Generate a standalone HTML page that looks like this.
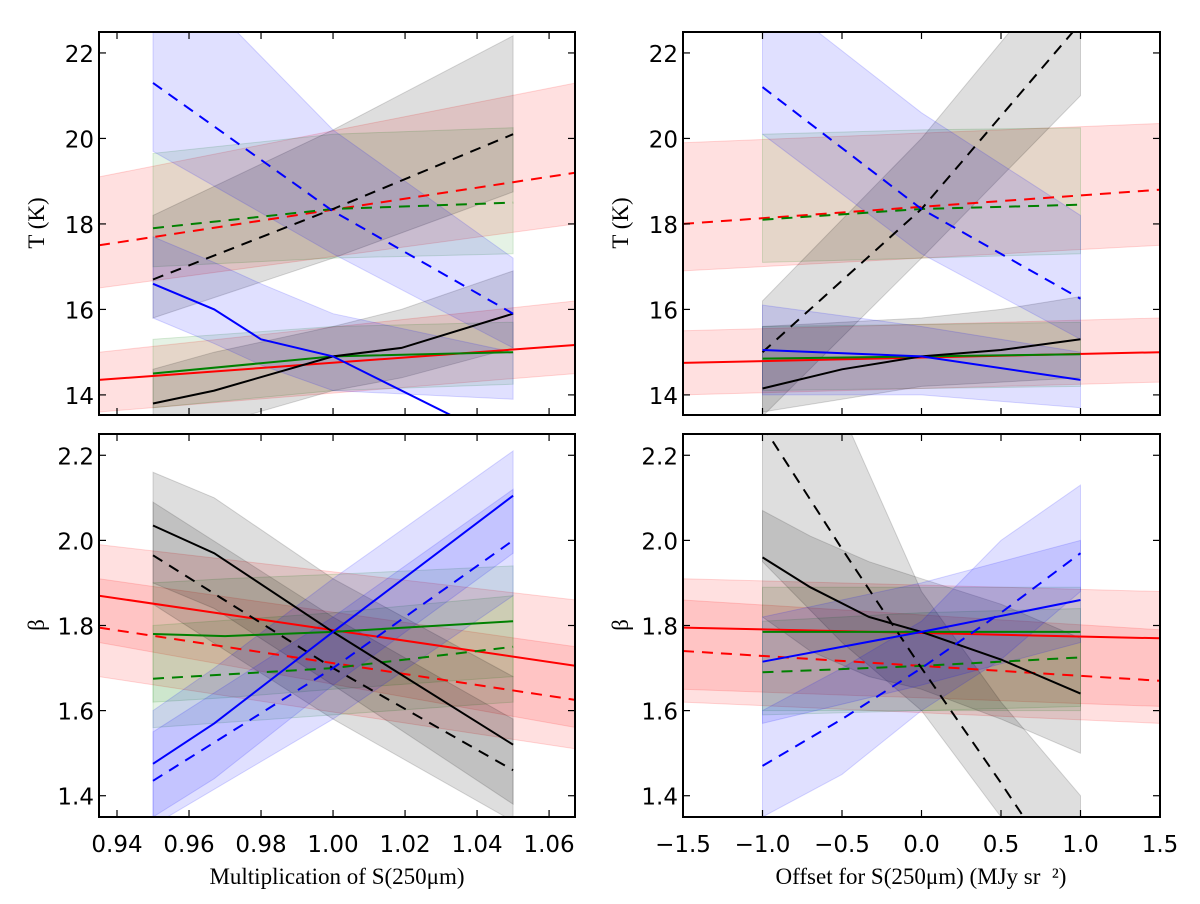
<!DOCTYPE html>
<html><head><meta charset="utf-8"><style>
html,body{margin:0;padding:0;background:#fff;}
svg{display:block;}
.tick{font-family:"DejaVu Sans","Liberation Sans",sans-serif;font-size:23px;fill:#000;}
.lab{font-family:"Liberation Serif","DejaVu Serif",serif;font-size:23px;fill:#000;}
</style></head><body>
<svg id="chart" width="1200" height="904" viewBox="0 0 1200 904" xmlns="http://www.w3.org/2000/svg"></svg>
<script>
// ---- data (x values, line values, band low, band high) ----
const multX3 = [0.95, 1.0, 1.05];
const multXfull = [0.935, 1.0675];
const offX3 = [-1, 0, 1];
const offXfull = [-1.5, 1.5];

// Top-left: T vs multiplication
const tlRedDash = [17.5, 19.2], tlRedDashLo = [16.5, 18.0], tlRedDashHi = [19.1, 21.3];
const tlRedSolid = [14.35, 15.17], tlRedSolidLo = [13.6, 14.5], tlRedSolidHi = [15.0, 16.2];
const tlGreenDash = [17.9, 18.35, 18.5], tlGreenDashLo = [17.0, 17.2, 17.3], tlGreenDashHi = [19.65, 20.1, 20.25];
const tlGreenSolid = [14.5, 14.9, 15.0], tlGreenSolidLo = [13.7, 14.1, 14.25], tlGreenSolidHi = [15.3, 15.6, 15.7];
const tlBlackDash = [16.7, 18.35, 20.1], tlBlackDashLo = [15.8, 17.2, 18.75], tlBlackDashHi = [18.2, 20.2, 22.4];
const tlBlackSolidX = [0.95, 0.967, 1.0, 1.019, 1.05];
const tlBlackSolid = [13.8, 14.1, 14.9, 15.1, 15.9];
const tlBlackSolidLo = [13.0, 13.3, 14.1, 14.4, 15.1], tlBlackSolidHi = [14.6, 15.0, 15.6, 16.0, 16.9];
const tlBlueDash = [21.3, 18.3, 15.9], tlBlueDashLo = [19.7, 17.3, 15.1], tlBlueDashHi = [24.5, 20.2, 17.2];
const tlBlueSolidX = [0.95, 0.967, 0.98, 1.0, 1.05];
const tlBlueSolid = [16.6, 16.0, 15.3, 14.9, 12.8], tlBlueSolidLo = [15.8, 15.2, 14.7, 14.1, 13.9], tlBlueSolidHi = [17.7, 17.1, 16.6, 15.9, 15.0];

// Top-right: T vs offset
const trRedDash = [18.0, 18.8], trRedDashLo = [16.9, 17.5], trRedDashHi = [19.9, 20.35];
const trRedSolid = [14.75, 15.0], trRedSolidLo = [14.0, 14.3], trRedSolidHi = [15.5, 15.8];
const trGreenDash = [18.1, 18.35, 18.45], trGreenDashLo = [17.1, 17.2, 17.3], trGreenDashHi = [20.1, 20.2, 20.25];
const trGreenSolid = [14.85, 14.9, 14.95], trGreenSolidLo = [14.1, 14.15, 14.2], trGreenSolidHi = [15.6, 15.65, 15.7];
const trBlackDash = [15.0, 18.35, 22.7], trBlackDashLo = [13.5, 17.2, 21.0], trBlackDashHi = [16.2, 20.0, 24.5];
const trBlackSolidX = [-1, -0.5, 0, 0.5, 1];
const trBlackSolid = [14.15, 14.6, 14.9, 15.05, 15.3], trBlackSolidLo = [13.6, 13.9, 14.2, 14.3, 14.4], trBlackSolidHi = [15.6, 15.7, 15.8, 16.0, 16.3];
const trBlueDash = [21.2, 18.35, 16.25], trBlueDashLo = [20.1, 17.3, 15.3], trBlueDashHi = [23.5, 20.6, 18.2];
const trBlueSolid = [15.05, 14.9, 14.35], trBlueSolidLo = [14.0, 14.0, 13.7], trBlueSolidHi = [16.1, 15.6, 15.0];

// Bottom-left: beta vs multiplication
const blRedSolid = [1.87, 1.705], blRedSolidLo = [1.76, 1.56], blRedSolidHi = [1.99, 1.86];
const blRedDash = [1.795, 1.625], blRedDashLo = [1.68, 1.51], blRedDashHi = [1.91, 1.75];
const blGreenSolidX = [0.95, 0.97, 1.0, 1.05];
const blGreenSolid = [1.78, 1.775, 1.785, 1.81], blGreenSolidLo = [1.62, 1.63, 1.65, 1.68], blGreenSolidHi = [1.90, 1.91, 1.92, 1.94];
const blGreenDash = [1.675, 1.70, 1.75], blGreenDashLo = [1.56, 1.59, 1.62], blGreenDashHi = [1.80, 1.83, 1.87];
const blBlackSolidX = [0.95, 0.967, 1.0, 1.05];
const blBlackSolid = [2.035, 1.97, 1.785, 1.52], blBlackSolidLo = [1.90, 1.84, 1.66, 1.38], blBlackSolidHi = [2.16, 2.10, 1.91, 1.68];
const blBlackDash = [1.965, 1.70, 1.46], blBlackDashLo = [1.85, 1.58, 1.34], blBlackDashHi = [2.09, 1.82, 1.58];
const blBlueSolidX = [0.95, 0.967, 1.0, 1.05];
const blBlueSolid = [1.475, 1.57, 1.785, 2.105], blBlueSolidLo = [1.35, 1.44, 1.66, 1.97], blBlueSolidHi = [1.60, 1.70, 1.91, 2.21];
const blBlueDash = [1.435, 1.70, 2.0], blBlueDashLo = [1.33, 1.58, 1.87], blBlueDashHi = [1.55, 1.82, 2.12];

// Bottom-right: beta vs offset
const brRedSolid = [1.795, 1.77], brRedSolidLo = [1.62, 1.57], brRedSolidHi = [1.91, 1.88];
const brRedDash = [1.74, 1.67], brRedDashLo = [1.65, 1.61], brRedDashHi = [1.86, 1.79];
const brGreenSolid = [1.785, 1.785, 1.785], brGreenSolidLo = [1.60, 1.60, 1.60], brGreenSolidHi = [1.89, 1.89, 1.89];
const brGreenDash = [1.69, 1.705, 1.725], brGreenDashLo = [1.59, 1.60, 1.61], brGreenDashHi = [1.81, 1.83, 1.84];
const brBlackSolidX = [-1, -0.7, -0.33, 0, 0.5, 1];
const brBlackSolid = [1.96, 1.89, 1.82, 1.785, 1.72, 1.64], brBlackSolidLo = [1.82, 1.74, 1.68, 1.65, 1.58, 1.50], brBlackSolidHi = [2.07, 2.01, 1.95, 1.91, 1.85, 1.77];
const brBlackDashX = [-1, -0.5, 0, 0.5, 1];
const brBlackDash = [2.27, 1.98, 1.70, 1.43, 1.15], brBlackDashLo = [1.95, 1.76, 1.60, 1.35, 1.10], brBlackDashHi = [2.6, 2.3, 1.88, 1.62, 1.40];
const brBlueSolid = [1.715, 1.785, 1.86], brBlueSolidLo = [1.57, 1.66, 1.76], brBlueSolidHi = [1.82, 1.90, 2.0];
const brBlueDashX = [-1, -0.5, 0, 0.5, 1];
const brBlueDash = [1.47, 1.58, 1.70, 1.83, 1.97], brBlueDashLo = [1.35, 1.45, 1.60, 1.72, 1.88], brBlueDashHi = [1.60, 1.70, 1.81, 2.0, 2.13];

// ticks
const multTicks = ["0.94","0.96","0.98","1.00","1.02","1.04","1.06"];
const offTicks = ["\u22121.5","\u22121.0","\u22120.5","0.0","0.5","1.0","1.5"];
const offTickVals = [-1.5,-1,-0.5,0,0.5,1,1.5];
const tTicks = [14,16,18,20,22];
const bTicks = ["1.4","1.6","1.8","2.0","2.2"];

// ---- drawing ----
const NS = "http://www.w3.org/2000/svg";
const svg = document.getElementById('chart');
function mk(tag, attrs, parent){
  const e = document.createElementNS(NS, tag);
  for (const k in attrs) e.setAttribute(k, attrs[k]);
  (parent||svg).appendChild(e); return e;
}
const COL = {red:"#ff0000", green:"#008000", black:"#000000", blue:"#0000ff"};
const FILL = {red:0.12, green:0.10, black:0.13, blue:0.12};

function panel(id, box, xd, yd){
  const [L,T,R,B] = box;
  const p = {L,T,R,B,
    x: v => L + (v - xd[0])/(xd[1]-xd[0])*(R-L),
    y: v => B - (v - yd[0])/(yd[1]-yd[0])*(B-T)};
  const cp = mk('clipPath', {id:'clip-'+id});
  mk('rect', {x:L, y:T, width:R-L, height:B-T}, cp);
  p.g = mk('g', {'clip-path':'url(#clip-'+id+')'});
  
  
  return p;
}
function band(p, name, color, xs, lo, hi){
  let d = '';
  xs.forEach((v,i)=>{ d += (i?'L':'M') + p.x(v).toFixed(1) + ',' + p.y(lo[i]).toFixed(1); });
  for (let i = xs.length-1; i >= 0; i--) d += 'L' + p.x(xs[i]).toFixed(1) + ',' + p.y(hi[i]).toFixed(1);
  const e = mk('path', {d: d+'Z', fill: COL[color], 'fill-opacity': FILL[color], stroke: COL[color], 'stroke-opacity': 0.15, 'stroke-width': 1}, p.g);
  
  
}
function line(p, name, color, xs, ys, dashed){
  const pts = xs.map((v,i)=> p.x(v).toFixed(1)+','+p.y(ys[i]).toFixed(1)).join(' ');
  const a = {points: pts, fill:'none', stroke: COL[color], 'stroke-width': 2};
  if (dashed) a['stroke-dasharray'] = '11,8';
  const e = mk('polyline', a, p.g);
  
  
}
function frame(p, id, xtickPos, xtickLab, ytickPos, ytickLab, showX){
  const fr = mk('rect', {x:p.L, y:p.T, width:p.R-p.L, height:p.B-p.T, fill:'none', stroke:'#000', 'stroke-width':2});
  
  
  xtickPos.forEach((v,i)=>{
    const X = p.x(v);
    mk('line', {x1:X, x2:X, y1:p.B, y2:p.B-7, stroke:'#000', 'stroke-width':1.2});
    mk('line', {x1:X, x2:X, y1:p.T, y2:p.T+7, stroke:'#000', 'stroke-width':1.2});
    if (showX){
      const t = mk('text', {x:X, y:p.B+35, 'text-anchor':'middle', class:'tick'});
      t.textContent = xtickLab[i];
      
      
    }
  });
  ytickPos.forEach((v,i)=>{
    const Y = p.y(v);
    mk('line', {x1:p.L, x2:p.L+7, y1:Y, y2:Y, stroke:'#000', 'stroke-width':1.2});
    mk('line', {x1:p.R, x2:p.R-7, y1:Y, y2:Y, stroke:'#000', 'stroke-width':1.2});
    const t = mk('text', {x:p.L-5, y:Y+9, 'text-anchor':'end', class:'tick'});
    t.textContent = ytickLab[i];
    
    
  });
}
function series(p, pre, color, xs, v, lo, hi, dashed){
  band(p, pre, color, xs, lo, hi);
  return () => line(p, pre, color, xs, v, dashed);
}

const multTickVals = multTicks.map(Number);
const bTickVals = bTicks.map(Number);
const tTickLab = tTicks.map(String);

// Top-left
const tl = panel('top-left', [99,32,575,415], [0.935,1.0672], [13.53,22.49]);
[
  series(tl,'tl-red-dashed','red',multXfull,tlRedDash,tlRedDashLo,tlRedDashHi,true),
  series(tl,'tl-red-solid','red',multXfull,tlRedSolid,tlRedSolidLo,tlRedSolidHi,false),
  series(tl,'tl-green-dashed','green',multX3,tlGreenDash,tlGreenDashLo,tlGreenDashHi,true),
  series(tl,'tl-green-solid','green',multX3,tlGreenSolid,tlGreenSolidLo,tlGreenSolidHi,false),
  series(tl,'tl-black-dashed','black',multX3,tlBlackDash,tlBlackDashLo,tlBlackDashHi,true),
  series(tl,'tl-black-solid','black',tlBlackSolidX,tlBlackSolid,tlBlackSolidLo,tlBlackSolidHi,false),
  series(tl,'tl-blue-dashed','blue',multX3,tlBlueDash,tlBlueDashLo,tlBlueDashHi,true),
  series(tl,'tl-blue-solid','blue',tlBlueSolidX,tlBlueSolid,tlBlueSolidLo,tlBlueSolidHi,false)
].forEach(f=>f());
frame(tl,'top-left',multTickVals,multTicks,tTicks,tTickLab,false);

// Top-right
const tr = panel('top-right', [683,32,1160,415], [-1.5,1.5], [13.53,22.49]);
[
  series(tr,'tr-red-dashed','red',offXfull,trRedDash,trRedDashLo,trRedDashHi,true),
  series(tr,'tr-red-solid','red',offXfull,trRedSolid,trRedSolidLo,trRedSolidHi,false),
  series(tr,'tr-green-dashed','green',offX3,trGreenDash,trGreenDashLo,trGreenDashHi,true),
  series(tr,'tr-green-solid','green',offX3,trGreenSolid,trGreenSolidLo,trGreenSolidHi,false),
  series(tr,'tr-black-dashed','black',offX3,trBlackDash,trBlackDashLo,trBlackDashHi,true),
  series(tr,'tr-black-solid','black',trBlackSolidX,trBlackSolid,trBlackSolidLo,trBlackSolidHi,false),
  series(tr,'tr-blue-dashed','blue',offX3,trBlueDash,trBlueDashLo,trBlueDashHi,true),
  series(tr,'tr-blue-solid','blue',offX3,trBlueSolid,trBlueSolidLo,trBlueSolidHi,false)
].forEach(f=>f());
frame(tr,'top-right',offTickVals,offTicks,tTicks,tTickLab,false);

// Bottom-left
const bl = panel('bottom-left', [99,434,575,817], [0.935,1.0672], [1.35,2.25]);
[
  series(bl,'bl-red-solid','red',multXfull,blRedSolid,blRedSolidLo,blRedSolidHi,false),
  series(bl,'bl-red-dashed','red',multXfull,blRedDash,blRedDashLo,blRedDashHi,true),
  series(bl,'bl-green-solid','green',blGreenSolidX,blGreenSolid,blGreenSolidLo,blGreenSolidHi,false),
  series(bl,'bl-green-dashed','green',multX3,blGreenDash,blGreenDashLo,blGreenDashHi,true),
  series(bl,'bl-black-solid','black',blBlackSolidX,blBlackSolid,blBlackSolidLo,blBlackSolidHi,false),
  series(bl,'bl-black-dashed','black',multX3,blBlackDash,blBlackDashLo,blBlackDashHi,true),
  series(bl,'bl-blue-solid','blue',blBlueSolidX,blBlueSolid,blBlueSolidLo,blBlueSolidHi,false),
  series(bl,'bl-blue-dashed','blue',multX3,blBlueDash,blBlueDashLo,blBlueDashHi,true)
].forEach(f=>f());
frame(bl,'bottom-left',multTickVals,multTicks,bTickVals,bTicks,true);

// Bottom-right
const br = panel('bottom-right', [683,434,1160,817], [-1.5,1.5], [1.35,2.25]);
[
  series(br,'br-red-solid','red',offXfull,brRedSolid,brRedSolidLo,brRedSolidHi,false),
  series(br,'br-red-dashed','red',offXfull,brRedDash,brRedDashLo,brRedDashHi,true),
  series(br,'br-green-solid','green',offX3,brGreenSolid,brGreenSolidLo,brGreenSolidHi,false),
  series(br,'br-green-dashed','green',offX3,brGreenDash,brGreenDashLo,brGreenDashHi,true),
  series(br,'br-black-solid','black',brBlackSolidX,brBlackSolid,brBlackSolidLo,brBlackSolidHi,false),
  series(br,'br-black-dashed','black',brBlackDashX,brBlackDash,brBlackDashLo,brBlackDashHi,true),
  series(br,'br-blue-solid','blue',offX3,brBlueSolid,brBlueSolidLo,brBlueSolidHi,false),
  series(br,'br-blue-dashed','blue',brBlueDashX,brBlueDash,brBlueDashLo,brBlueDashHi,true)
].forEach(f=>f());
frame(br,'bottom-right',offTickVals,offTicks,bTickVals,bTicks,true);

// axis titles
function label(txt, x, y, rot, name){
  const t = mk('text', {x:x, y:y, 'text-anchor':'middle', class:'lab'});
  if (rot) t.setAttribute('transform', 'rotate(-90 '+x+' '+y+')');
  t.textContent = txt;
  
  
}
label('T (K)', 44, 223, true, 'y-axis-title-temperature');
label('T (K)', 628, 223, true, 'y-axis-title-temperature-right');
label('\u03B2', 44, 625, true, 'y-axis-title-beta');
label('\u03B2', 628, 625, true, 'y-axis-title-beta-right');
label('Multiplication of S(250\u03BCm)', 337, 884, false, 'x-axis-title-multiplication');
label('Offset for S(250\u03BCm) (MJy sr\u00A0\u00A0\u00B2)', 921, 884, false, 'x-axis-title-offset');
</script>
</body></html>
